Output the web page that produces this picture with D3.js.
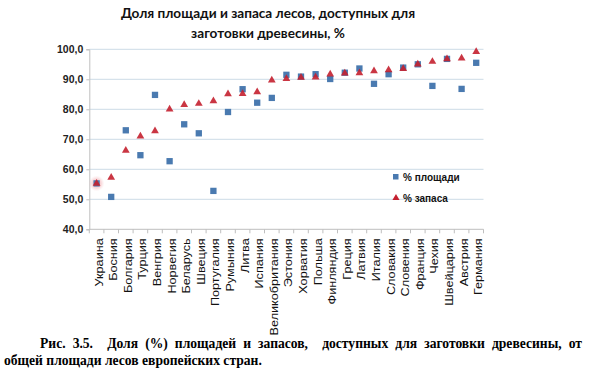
<!DOCTYPE html>
<html><head><meta charset="utf-8">
<script src="https://cdn.jsdelivr.net/npm/d3@7"></script>
<style>
html,body{margin:0;padding:0;background:#fff;}
svg{display:block;}
</style></head>
<body>
<script>
const countries = ["Украина","Босния","Болгария","Турция","Венгрия","Норвегия","Беларусь","Швеция","Португалия","Румыния","Литва","Испания","Великобритания","Эстония","Хорватия","Польша","Финляндия","Греция","Латвия","Италия","Словакия","Словения","Франция","Чехия","Швейцария","Австрия","Германия"];
const areaShare  = [55.3,50.8,73.0,64.7,84.8,62.7,75.0,72.0,52.8,79.1,86.7,82.2,83.8,91.5,90.9,91.7,90.1,92.2,93.6,88.5,91.7,93.9,95.0,87.8,96.8,86.8,95.5];
const stockShare = [55.3,57.3,66.3,71.0,72.8,80.0,81.5,81.9,82.8,85.1,85.2,85.8,89.7,90.2,90.6,90.7,91.7,92.0,92.1,92.8,93.1,93.5,95.0,95.9,96.8,97.0,99.2];
const yTicks = [40,50,60,70,80,90,100];
const seriesNames = ["% площади","% запаса"];
const titleLines = ["Доля площади и запаса лесов, доступных для","заготовки древесины, %"];
const captionLines = ["Рис. 3.5.  Доля (%) площадей и запасов,  доступных для заготовки древесины, от","общей площади лесов европейских стран."];

const W=590,H=379;
const svg=d3.select("body").append("svg").attr("width",W).attr("height",H);
const defs=svg.append("defs");
const rg=defs.append("radialGradient").attr("id","glow");
rg.append("stop").attr("offset","0%").attr("stop-color","#e8707a").attr("stop-opacity",0.55);
rg.append("stop").attr("offset","60%").attr("stop-color","#ee9aa0").attr("stop-opacity",0.35);
rg.append("stop").attr("offset","100%").attr("stop-color","#f6c6c8").attr("stop-opacity",0);

const x=d3.scaleBand().domain(countries).range([89.3,483.5]);
const y=d3.scaleLinear().domain([40,100]).range([229.3,49.3]);

// gridlines
svg.append("g").selectAll("line").data(yTicks.filter(d=>d>40)).join("line")
  .attr("x1",89.3).attr("x2",483.5).attr("y1",d=>y(d)).attr("y2",d=>y(d))
  .attr("stroke","#ccdbe7").attr("stroke-width",1);

// y axis
const yAxis=svg.append("g").attr("transform","translate(89.3,0)")
  .call(d3.axisLeft(y).tickValues(yTicks).tickSize(3).tickFormat(d=>d3.format(".1f")(d).replace(".",",")));
yAxis.select(".domain").attr("stroke","#bfbfbf");
yAxis.selectAll(".tick line").attr("stroke","#bfbfbf");
yAxis.selectAll("text").attr("font-family","Liberation Sans, Arial, sans-serif").attr("font-size",10.5).attr("font-weight","bold").attr("fill","#222").attr("x",-6);

// x axis
const xg=svg.append("g").attr("transform",`translate(0,${y(40)})`);
xg.append("line").attr("x1",89.3).attr("x2",483.5).attr("stroke","#bfbfbf");
const bounds=countries.map(c=>x(c)).concat([x(countries[countries.length-1])+x.bandwidth()]);
xg.selectAll("line.t").data(bounds).join("line").attr("class","t")
  .attr("x1",d=>d).attr("x2",d=>d).attr("y1",0).attr("y2",4).attr("stroke","#bfbfbf");
xg.selectAll("text").data(countries).join("text")
  .attr("transform",d=>`translate(${x(d)+x.bandwidth()/2+6},9) rotate(-90) scale(1.15,1)`)
  .attr("text-anchor","end")
  .attr("font-family","Liberation Sans, Arial, sans-serif").attr("font-size",11).attr("fill","#111")
  .text(d=>d);

// glow on Ukraine
svg.append("circle").attr("cx",x(countries[0])+x.bandwidth()/2).attr("cy",y(areaShare[0]))
  .attr("r",8).attr("fill","url(#glow)");

const sq=6.3;
const tri=d3.symbol().type(d3.symbolTriangle).size(26);
// area squares
svg.append("g").selectAll("rect").data(areaShare).join("rect")
  .attr("x",(d,i)=>x(countries[i])+x.bandwidth()/2-sq/2).attr("y",d=>y(d)-sq/2)
  .attr("width",sq).attr("height",sq).attr("fill","#4a7ab0");
// stock triangles
svg.append("g").selectAll("path").data(stockShare).join("path")
  .attr("d",tri).attr("transform",(d,i)=>`translate(${x(countries[i])+x.bandwidth()/2},${y(d)})`)
  .attr("fill","#c4202f").attr("fill-opacity",0.9);

// legend
const lg=svg.append("g");
lg.append("rect").attr("x",393).attr("y",174).attr("width",5.5).attr("height",5.5).attr("fill","#4a7ab0");
lg.append("path").attr("d",d3.symbol().type(d3.symbolTriangle).size(22)).attr("transform","translate(396,198)").attr("fill","#c4202f");
lg.selectAll("text").data(seriesNames).join("text")
  .attr("x",403).attr("y",(d,i)=>181+i*21)
  .attr("font-family","Liberation Sans, Arial, sans-serif").attr("font-size",10).attr("font-weight","bold").attr("fill","#111")
  .text(d=>d);

// title
svg.append("g").selectAll("text").data(titleLines).join("text")
  .attr("x",268).attr("y",(d,i)=>18+i*20).attr("text-anchor","middle")
  .attr("font-family","Lato, Open Sans, sans-serif").attr("font-size",13.6).attr("font-weight","bold").attr("fill","#111")
  .text(d=>d);

// caption
const cap=svg.append("g").attr("font-family","Liberation Serif, Times New Roman, serif").attr("font-size",13.6).attr("font-weight","bold").attr("fill","#000");
const c1=cap.append("text").attr("x",40).attr("y",348).attr("xml:space","preserve").text(captionLines[0]);
const nat=c1.node().getComputedTextLength();
const spaces=(captionLines[0].match(/ /g)||[]).length;
c1.attr("word-spacing",Math.max(0,((582-40)-nat)/spaces));
cap.append("text").attr("x",4).attr("y",365).text(captionLines[1]);
</script>
</body></html>
